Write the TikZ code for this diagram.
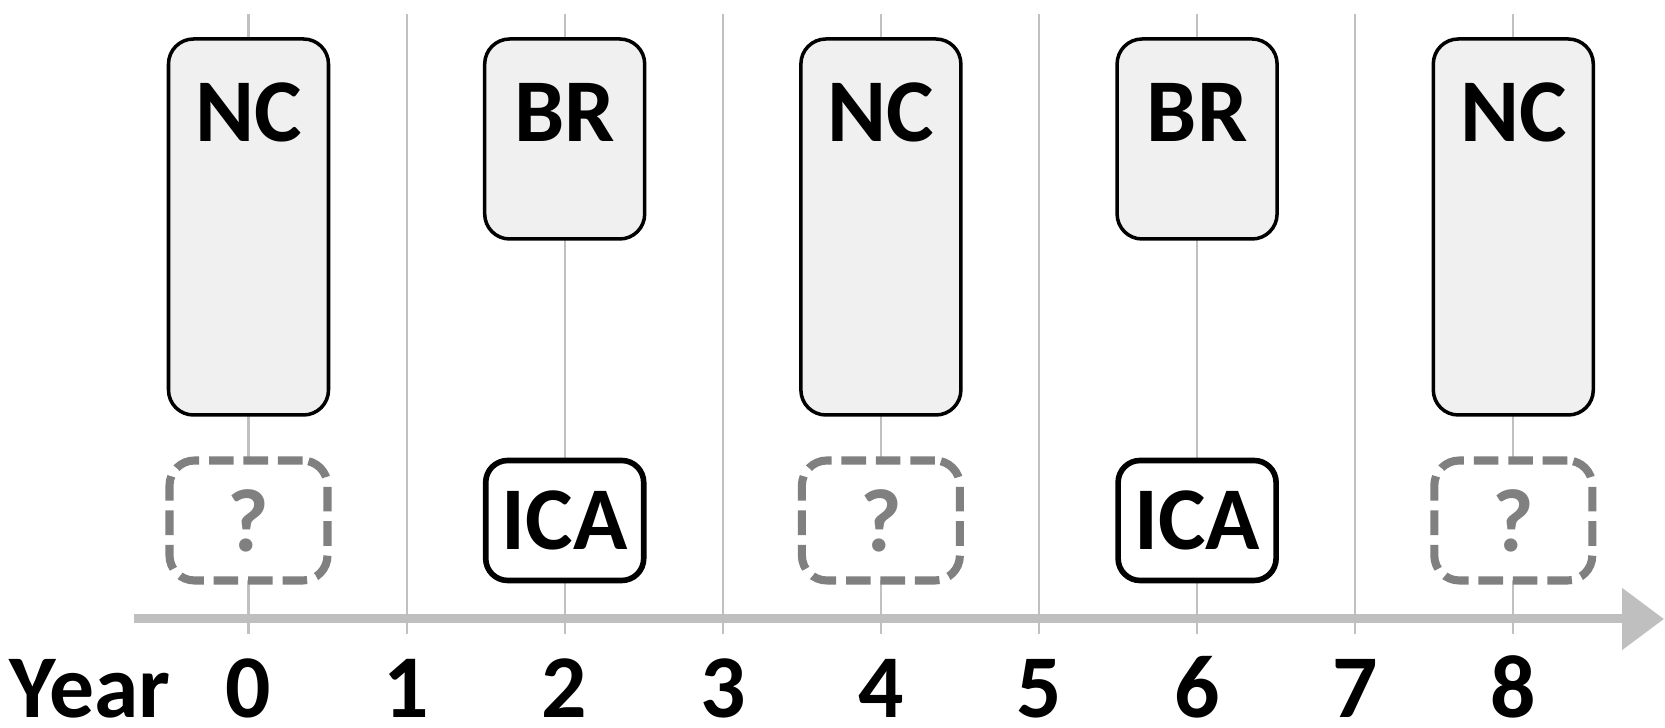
\documentclass[tikz,border=0pt]{standalone}
\usepackage{fontspec}
\setmainfont{Carlito}
\usetikzlibrary{arrows.meta,positioning}
\definecolor{boxfill}{HTML}{F0F0F0}
\definecolor{gridgray}{HTML}{C0C0C0}
\definecolor{axisgray}{HTML}{BFBFBF}
\definecolor{unknowngray}{HTML}{808080}

\begin{document}
\begin{tikzpicture}[
    font=\bfseries\fontsize{25.5}{30}\selectfont,
    grid/.style={draw=gridgray,line width=0.6pt},
    axis/.style={draw=axisgray,line width=0.09cm,-{Triangle[length=0.42cm,width=0.6cm]}},
    event/.style={draw,fill=boxfill,rounded corners=0.25cm,line width=1pt,minimum width=1.6cm,inner sep=0pt},
    nc/.style={event,minimum height=3.76cm},
    br/.style={event,minimum height=2.0cm},
    ica/.style={draw,fill=white,rounded corners=0.22cm,line width=1.6pt,minimum width=1.58cm,minimum height=1.2cm,inner sep=0pt},
    unknown/.style={ica,draw=unknowngray,text=unknowngray,rounded corners=0.25cm,dash pattern=on 7pt off 2.8pt,line width=2.3pt},
    tag/.style={inner sep=0pt},
    yearlbl/.style={inner sep=0pt,anchor=base}
]
\path[use as bounding box] (0,0) rectangle (16.65,7.28);

% year grid and axis
\foreach \i in {0,...,8} {
    \coordinate (gt\i) at (2.485+1.581*\i,7.14);
    \coordinate (gb\i) at (2.485+1.581*\i,0.94);
    \draw[grid] (gt\i) -- (gb\i);
    \node[yearlbl] (y\i) at (2.485+1.581*\i,0.1) {\i};
}
\node[yearlbl] (year) at (0.9,0.1) {Year};
\coordinate (axstart) at (1.34,1.09);
\coordinate (axend) at (16.64,1.09);
\draw[axis] (axstart) -- (axend);

% events
\foreach \i in {0,4,8} {
    \node[nc] (nc\i) at (2.485+1.581*\i,5.01) {};
    \node[tag,below=0.45cm of nc\i.north] (ncl\i) {NC};
    \node[unknown] (q\i) at (2.485+1.581*\i,2.075) {?};
}
\foreach \i in {2,6} {
    \node[br] (br\i) at (2.485+1.581*\i,5.89) {};
    \node[tag,below=0.45cm of br\i.north] (brl\i) {BR};
    \node[ica] (ica\i) at (2.485+1.581*\i,2.075) {ICA};
}
\end{tikzpicture}
\end{document}
